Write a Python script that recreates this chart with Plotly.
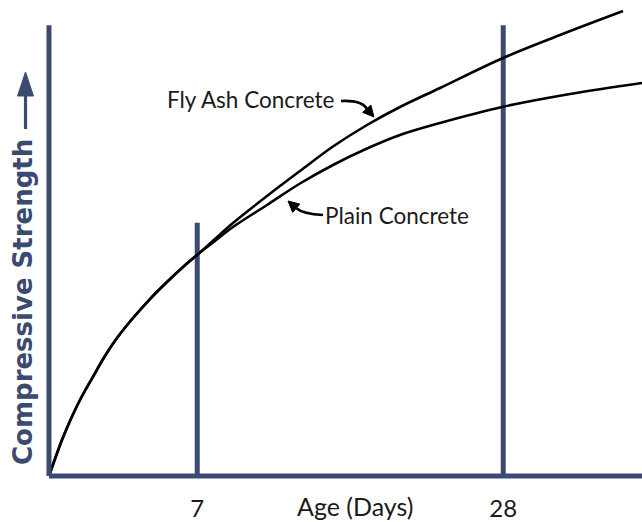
import plotly.graph_objects as go

# schematic axis units (x: 0..100 across, y: 0..100 up)
common_x = [0, 1.01, 2.19, 3.54, 5.23, 7.25, 9.44, 11.47, 14.17, 17.03, 19.90, 22.60, 24.96]
common_y = [0, 3.57, 7.56, 11.55, 15.97, 20.48, 25.21, 28.99, 33.19, 37.18, 40.76, 43.91, 46.43]

fly_x = common_x + [27.99, 31.03, 36.76, 42.33, 47.89, 53.63, 59.19, 65.94, 76.56, 86.17, 96.80]
fly_y = common_y + [49.79, 53.15, 58.82, 64.08, 69.22, 73.74, 77.52, 81.51, 87.82, 92.65, 97.69]
plain_x = common_x + [27.99, 31.03, 36.76, 42.33, 47.89, 53.63, 59.19, 65.94, 76.39, 87.86, 100.0]
plain_y = common_y + [49.37, 52.31, 56.93, 61.45, 65.34, 68.80, 71.64, 74.16, 77.52, 80.25, 82.56]

tick_vals = [25, 76.6]
tick_text = ["7", "28"]
marker_tops = [53.2, 94.7]
axis_top = 94.7

NAVY = "#3b4a70"
FONT = "Lato"
TXT = "#1a1a1a"

XR = [-3.2, 100]
YR = [-2.1, 100]
L, R, T, B = 30, 0, 0, 36
W, H = 642, 522
pw, ph = W - L - R, H - T - B


def to_data(px, py):
    x = XR[0] + (px - L) / pw * (XR[1] - XR[0])
    y = YR[1] - (py - T) / ph * (YR[1] - YR[0])
    return x, y


def to_paper(px, py):
    return (px - L) / pw, 1 - (py - T) / ph


fig = go.Figure()
for xs, ys in ((fly_x, fly_y), (plain_x, plain_y)):
    fig.add_trace(go.Scatter(x=xs, y=ys, mode="lines",
                             line=dict(color="black", width=2.6, shape="spline", smoothing=1.0),
                             hoverinfo="skip", showlegend=False))

shapes = []
shapes.append(dict(type="line", x0=0, x1=0, y0=0, y1=axis_top, line=dict(color=NAVY, width=5)))
shapes.append(dict(type="line", x0=0, x1=XR[1], y0=0, y1=0, line=dict(color=NAVY, width=5)))
for xv, top in zip(tick_vals, marker_tops):
    shapes.append(dict(type="line", x0=xv, x1=xv, y0=0, y1=top, line=dict(color=NAVY, width=5), layer="below"))


def curved_arrow(p0, c, p1, tip):
    a = to_data(*p0); b = to_data(*c); d = to_data(*p1)
    path = f"M {a[0]},{a[1]} Q {b[0]},{b[1]} {d[0]},{d[1]}"
    shapes.append(dict(type="path", path=path, line=dict(color="black", width=2.6)))
    dx, dy = tip[0] - p1[0], tip[1] - p1[1]
    n = (dx * dx + dy * dy) ** 0.5
    ux, uy = dx / n, dy / n
    ln, hw = 11, 5.5
    bx, by = tip[0] - ux * ln, tip[1] - uy * ln
    pts = [tip, (bx - uy * hw, by + ux * hw), (bx + uy * hw, by - ux * hw)]
    pts = [to_data(*p) for p in pts]
    tri = "M " + " L ".join(f"{x},{y}" for x, y in pts) + " Z"
    shapes.append(dict(type="path", path=tri, fillcolor="black", line=dict(color="black", width=1)))


curved_arrow((341, 101), (362, 100), (367, 109), (374, 117))
curved_arrow((323, 215), (303, 214), (296, 208), (288, 201))

# upward arrow after the y-axis title (paper coordinates)
s0 = to_paper(25.5, 129); s1 = to_paper(25.5, 92)
shapes.append(dict(type="line", xref="paper", yref="paper", x0=s0[0], y0=s0[1], x1=s1[0], y1=s1[1],
                   line=dict(color=NAVY, width=3.2)))
hp = [to_paper(25.5, 72), to_paper(17.5, 96), to_paper(33.5, 96)]
shapes.append(dict(type="path", xref="paper", yref="paper",
                   path="M " + " L ".join(f"{x},{y}" for x, y in hp) + " Z",
                   fillcolor=NAVY, line=dict(color=NAVY, width=1)))

fa = to_data(251, 99)
pc = to_data(397, 215)
age = to_paper(355, 506)
ylab = to_paper(23, 302)

annotations = [
    dict(x=fa[0], y=fa[1], text="Fly Ash Concrete", showarrow=False,
         font=dict(family=FONT, size=22.5, color=TXT), xanchor="center", yanchor="middle"),
    dict(x=pc[0], y=pc[1], text="Plain Concrete", showarrow=False,
         font=dict(family=FONT, size=22.5, color=TXT), xanchor="center", yanchor="middle"),
    dict(x=age[0], y=age[1], xref="paper", yref="paper", text="Age (Days)", showarrow=False,
         font=dict(family=FONT, size=25, color=TXT), xanchor="center", yanchor="middle"),
    dict(x=ylab[0], y=ylab[1], xref="paper", yref="paper", text="<b>Compressive Strength</b>",
         showarrow=False, textangle=-90,
         font=dict(family="DejaVu Sans", size=26, color=NAVY), xanchor="center", yanchor="middle"),
]

fig.update_layout(
    width=W, height=H, margin=dict(l=L, r=R, t=T, b=B),
    paper_bgcolor="white", plot_bgcolor="white",
    shapes=shapes, annotations=annotations, showlegend=False,
    xaxis=dict(range=XR, showgrid=False, zeroline=False, showline=False,
               tickvals=tick_vals, ticktext=tick_text, ticks="outside", ticklen=1,
               tickcolor="rgba(0,0,0,0)", tickfont=dict(family=FONT, size=24, color=TXT)),
    yaxis=dict(range=YR, showgrid=False, zeroline=False, showline=False, showticklabels=False),
)

fig.write_html("out.html", config={"displayModeBar": False},
               post_script="document.body.style.margin='0px';document.body.style.overflow='hidden';")
